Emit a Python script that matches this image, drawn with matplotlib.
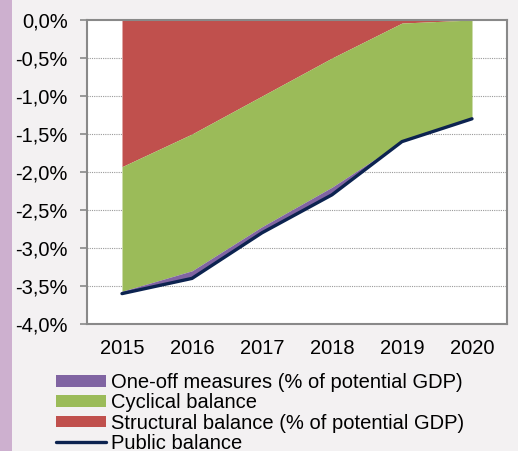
import numpy as np
import matplotlib.pyplot as plt
from matplotlib.ticker import FuncFormatter, FixedLocator
from matplotlib.patches import Rectangle

plt.rcParams['font.family'] = ['Liberation Sans', 'DejaVu Sans']

years = ['2015', '2016', '2017', '2018', '2019', '2020']
structural = [-1.93, -1.50, -1.00, -0.50, -0.04, 0.0]
cyclical = [-1.64, -1.80, -1.72, -1.70, -1.56, -1.30]
one_off = [-0.03, -0.08, -0.07, -0.08, 0.0, 0.0]
public_balance = [-3.60, -3.40, -2.80, -2.30, -1.60, -1.30]

x = np.arange(len(years))
s = np.array(structural)
c = s + np.array(cyclical)
o = c + np.array(one_off)

fig = plt.figure(figsize=(5.18, 4.51), dpi=100)
fig.patch.set_facecolor('#F3F1F2')
# purple strip on the left edge
fig.patches.append(Rectangle((0, 0), 12 / 518, 1, transform=fig.transFigure,
                             facecolor='#CDB0CF', edgecolor='none', zorder=0))

ax = fig.add_axes([87 / 518, 1 - 324 / 451, 420 / 518, 304 / 451])
ax.set_facecolor('white')

ax.fill_between(x, 0, s, color='#C0504D', lw=0, label='Structural balance (% of potential GDP)', zorder=2)
ax.fill_between(x, s, c, color='#9BBB59', lw=0, label='Cyclical balance', zorder=2)
ax.fill_between(x, c, o, color='#8064A2', lw=0, label='One-off measures (% of potential GDP)', zorder=2)
ax.plot(x, public_balance, color='#0C2350', lw=2.4, solid_capstyle='round',
        label='Public balance', zorder=3)

ax.set_xlim(-0.5, 5.5)
ax.set_ylim(-4.0, 0.0)

ax.set_yticks(np.arange(-4.0, 0.01, 0.5))
ax.yaxis.set_major_formatter(FuncFormatter(lambda v, p: ('%.1f%%' % (0.0 if abs(v) < 1e-9 else v)).replace('.', ',')))
ax.set_xticks(x)
ax.set_xticklabels(years)
ax.xaxis.set_minor_locator(FixedLocator(x[:-1] + 0.5))

ax.tick_params(axis='y', which='major', labelsize=14.5, length=5, width=1.2, color='#898989', pad=9, direction='out')
ax.tick_params(axis='x', which='major', labelsize=14.5, length=0, pad=11)
ax.tick_params(axis='x', which='minor', top=True, bottom=False, length=4, width=1.2,
               color='#898989', direction='in')

for yv in np.arange(-3.5, 0.0, 0.5):
    ax.axhline(yv, color='#9A9A9A', lw=0.8, ls=(0, (1, 1)), zorder=1)

for side in ['left', 'top', 'right', 'bottom']:
    ax.spines[side].set_color('#898989')
    ax.spines[side].set_linewidth(1.5)
    ax.spines[side].set_zorder(4)

handles, labels = ax.get_legend_handles_labels()
order = [2, 1, 0, 3]
leg = fig.legend([handles[i] for i in order], [labels[i] for i in order],
                 loc='upper left', bbox_to_anchor=(56 / 518, 1 - 373 / 451),
                 frameon=False, fontsize=14.5, handlelength=2.5, handleheight=0.5,
                 handletextpad=0.25, labelspacing=0.065, borderpad=0, borderaxespad=0)

fig.savefig('out.png', dpi=100, facecolor=fig.get_facecolor())
